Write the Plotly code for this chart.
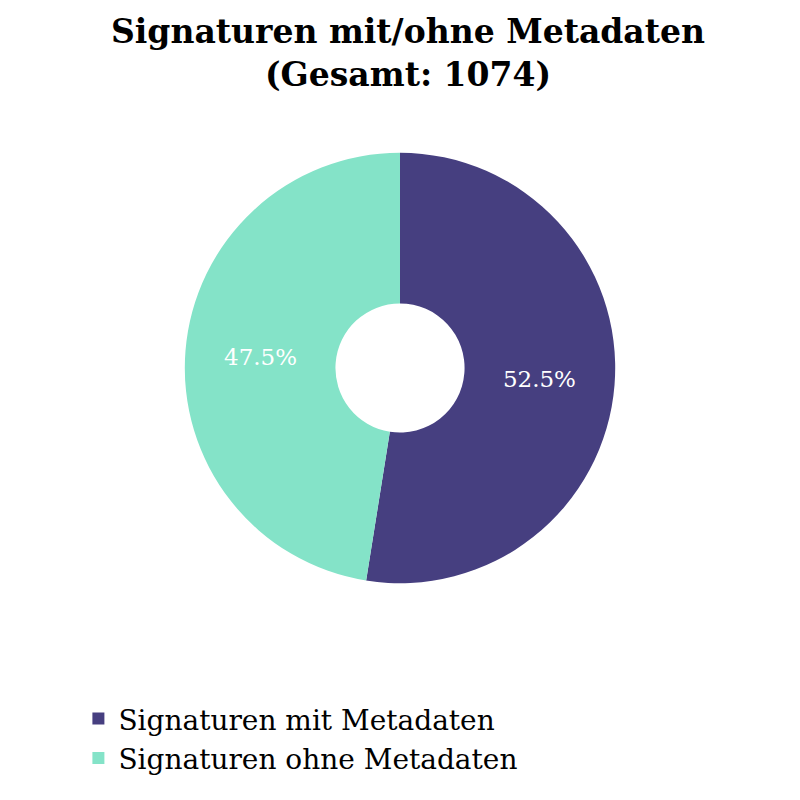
import plotly.graph_objects as go

labels = ["Signaturen mit Metadaten", "Signaturen ohne Metadaten"]
counts = [564, 510]
colors = ["#463f80", "#84e3c8"]
total = sum(counts)

font_family = "Georgia, 'DejaVu Serif', serif"

fig = go.Figure(go.Pie(
    labels=labels,
    values=counts,
    hole=0.3,
    sort=False,
    direction="clockwise",
    rotation=0,
    marker=dict(colors=colors),
    textinfo="percent",
    texttemplate="%{percent:.1%}",
    textposition="inside",
    insidetextfont=dict(color="white", size=23, family=font_family),
    domain=dict(x=[0.19, 0.79], y=[0.281, 0.819]),
))

fig.update_layout(
    width=800, height=800,
    paper_bgcolor="white",
    plot_bgcolor="white",
    font=dict(family=font_family, color="black"),
    title=dict(
        text=f"<b>Signaturen mit/ohne Metadaten<br>(Gesamt: {total})</b>",
        x=0.5, xanchor="center",
        y=0.956, yanchor="top",
        font=dict(size=33, family=font_family, color="black"),
    ),
    margin=dict(l=0, r=0, t=0, b=0),
    showlegend=True,
    legend=dict(
        orientation="v",
        x=0.088, xanchor="left",
        y=0.087, yanchor="middle",
        font=dict(size=28, family=font_family, color="black"),
    ),
)

fig.write_html("out.html")
